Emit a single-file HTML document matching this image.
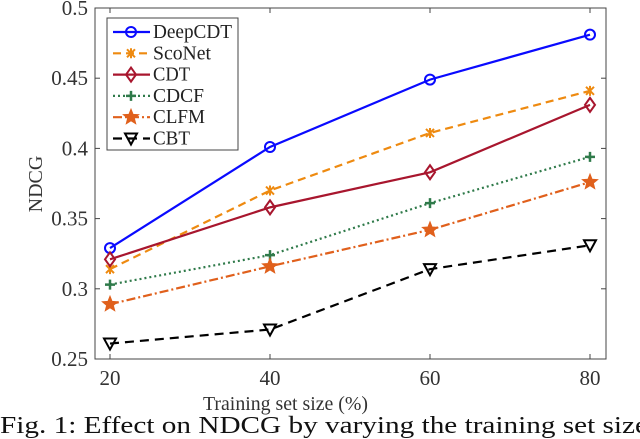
<!DOCTYPE html>
<html><head><meta charset="utf-8"><style>
body{margin:0;background:#fff;overflow:hidden}
svg{display:block;font-family:"Liberation Serif",serif}
</style></head><body>
<svg id="c" width="640" height="439">
<rect x="95" y="8" width="511" height="351" fill="#fff" stroke="#444" stroke-width="1"/>
<g id="ticks"></g><g id="series"></g>
<text x="203" y="410" textLength="165" lengthAdjust="spacingAndGlyphs" font-size="20" fill="#333">Training set size (%)</text>
<text transform="translate(42,184) rotate(-90)" text-anchor="middle" font-size="20" fill="#333">NDCG</text>
<text x="0" y="433" textLength="648" lengthAdjust="spacingAndGlyphs" font-size="24" fill="#111">Fig. 1: Effect on NDCG by varying the training set size</text>
<g id="legend"></g>
</svg>
<script>
const categories=[20,40,60,80];
const yTicks=[0.25,0.3,0.35,0.4,0.45,0.5];
const yTickLabels=["0.25","0.3","0.35","0.4","0.45","0.5"];
const deepcdt=[0.329,0.401,0.449,0.481];
const sconet=[0.314,0.370,0.411,0.441];
const cdt=[0.321,0.358,0.383,0.431];
const cdcf=[0.303,0.324,0.361,0.394];
const clfm=[0.289,0.316,0.342,0.376];
const cbt=[0.261,0.271,0.314,0.331];
const names=["DeepCDT","ScoNet","CDT","CDCF","CLFM","CBT"];
const NS="http://www.w3.org/2000/svg";
const X=v=>110+(v-20)*(590-110)/60;
const Y=v=>359-(v-0.25)*(351/0.25);
function mk(t,a,p){const e=document.createElementNS(NS,t);for(const k in a)e.setAttribute(k,a[k]);p.appendChild(e);return e;}
const tg=document.getElementById('ticks');
yTicks.forEach((v,i)=>{
 mk('line',{x1:95,x2:100,y1:Y(v),y2:Y(v),stroke:'#444'},tg);
 mk('line',{x1:601,x2:606,y1:Y(v),y2:Y(v),stroke:'#444'},tg);
 const t=mk('text',{x:88,y:Y(v)+7,'text-anchor':'end','font-size':21,fill:'#333'},tg);
 
 
 t.textContent=yTickLabels[i];
});
categories.forEach(c=>{
 mk('line',{x1:X(c),x2:X(c),y1:359,y2:354,stroke:'#444'},tg);
 mk('line',{x1:X(c),x2:X(c),y1:8,y2:13,stroke:'#444'},tg);
 const t=mk('text',{x:X(c),y:385,'text-anchor':'middle','font-size':21,fill:'#333'},tg);
 
 
 t.textContent=c;
});
const styles=[
 {d:deepcdt,c:'#0a0aff',dash:'',m:'circle'},
 {d:sconet,c:'#ee8a10',dash:'8,5',m:'x'},
 {d:cdt,c:'#a8162e',dash:'',m:'diamond'},
 {d:cdcf,c:'#2f7a4a',dash:'2,3',m:'plus'},
 {d:clfm,c:'#e0601c',dash:'9,3,2,3',m:'star'},
 {d:cbt,c:'#000',dash:'9,6',m:'tri'}];
function marker(m,x,y,c,g){
 if(m==='circle')mk('circle',{cx:x,cy:y,r:5,fill:'none',stroke:c,'stroke-width':2},g);
 else if(m==='x'){mk('path',{d:`M${x-4} ${y-4}L${x+4} ${y+4}M${x-4} ${y+4}L${x+4} ${y-4}M${x} ${y-5}V${y+5}`,stroke:c,'stroke-width':2},g);}
 else if(m==='diamond')mk('path',{d:`M${x} ${y-7}L${x+5} ${y}L${x} ${y+7}L${x-5} ${y}Z`,fill:'none',stroke:c,'stroke-width':2},g);
 else if(m==='plus')mk('path',{d:`M${x-5} ${y}H${x+5}M${x} ${y-5}V${y+5}`,stroke:c,'stroke-width':2.5},g);
 else if(m==='star'){let p='';for(let i=0;i<10;i++){const r=i%2?3.5:8,a=-Math.PI/2+i*Math.PI/5;p+=(i?'L':'M')+(x+r*Math.cos(a))+' '+(y+r*Math.sin(a));}mk('path',{d:p+'Z',fill:c,stroke:c},g);}
 else mk('path',{d:`M${x-6} ${y-5}H${x+6}L${x} ${y+6}Z`,fill:'none',stroke:c,'stroke-width':2},g);
}
const sg=document.getElementById('series');
styles.forEach((s,k)=>{
 const g=mk('g',{},sg);
 
 
 mk('polyline',{points:s.d.map((v,i)=>X(categories[i])+','+Y(v)).join(' '),fill:'none',stroke:s.c,'stroke-width':2.2,'stroke-dasharray':s.dash},g);
 s.d.forEach((v,i)=>marker(s.m,X(categories[i]),Y(v),s.c,g));
});
const lg=document.getElementById('legend');
mk('rect',{x:107,y:18,width:131,height:132,fill:'#fff',stroke:'#444'},lg);
const widths=[79,58,37,51,52,37];
styles.forEach((s,k)=>{
 const y=32+k*21.3;
 const e=mk('g',{},lg);
 
 
 mk('line',{x1:113,x2:150,y1:y,y2:y,stroke:s.c,'stroke-width':2.2,'stroke-dasharray':s.dash},e);
 marker(s.m,131,y,s.c,e);
 const t=mk('text',{x:153,y:y+6,'font-size':20,fill:'#222',textLength:widths[k],lengthAdjust:'spacingAndGlyphs'},e);
 t.textContent=names[k];
});
</script>
</body></html>
